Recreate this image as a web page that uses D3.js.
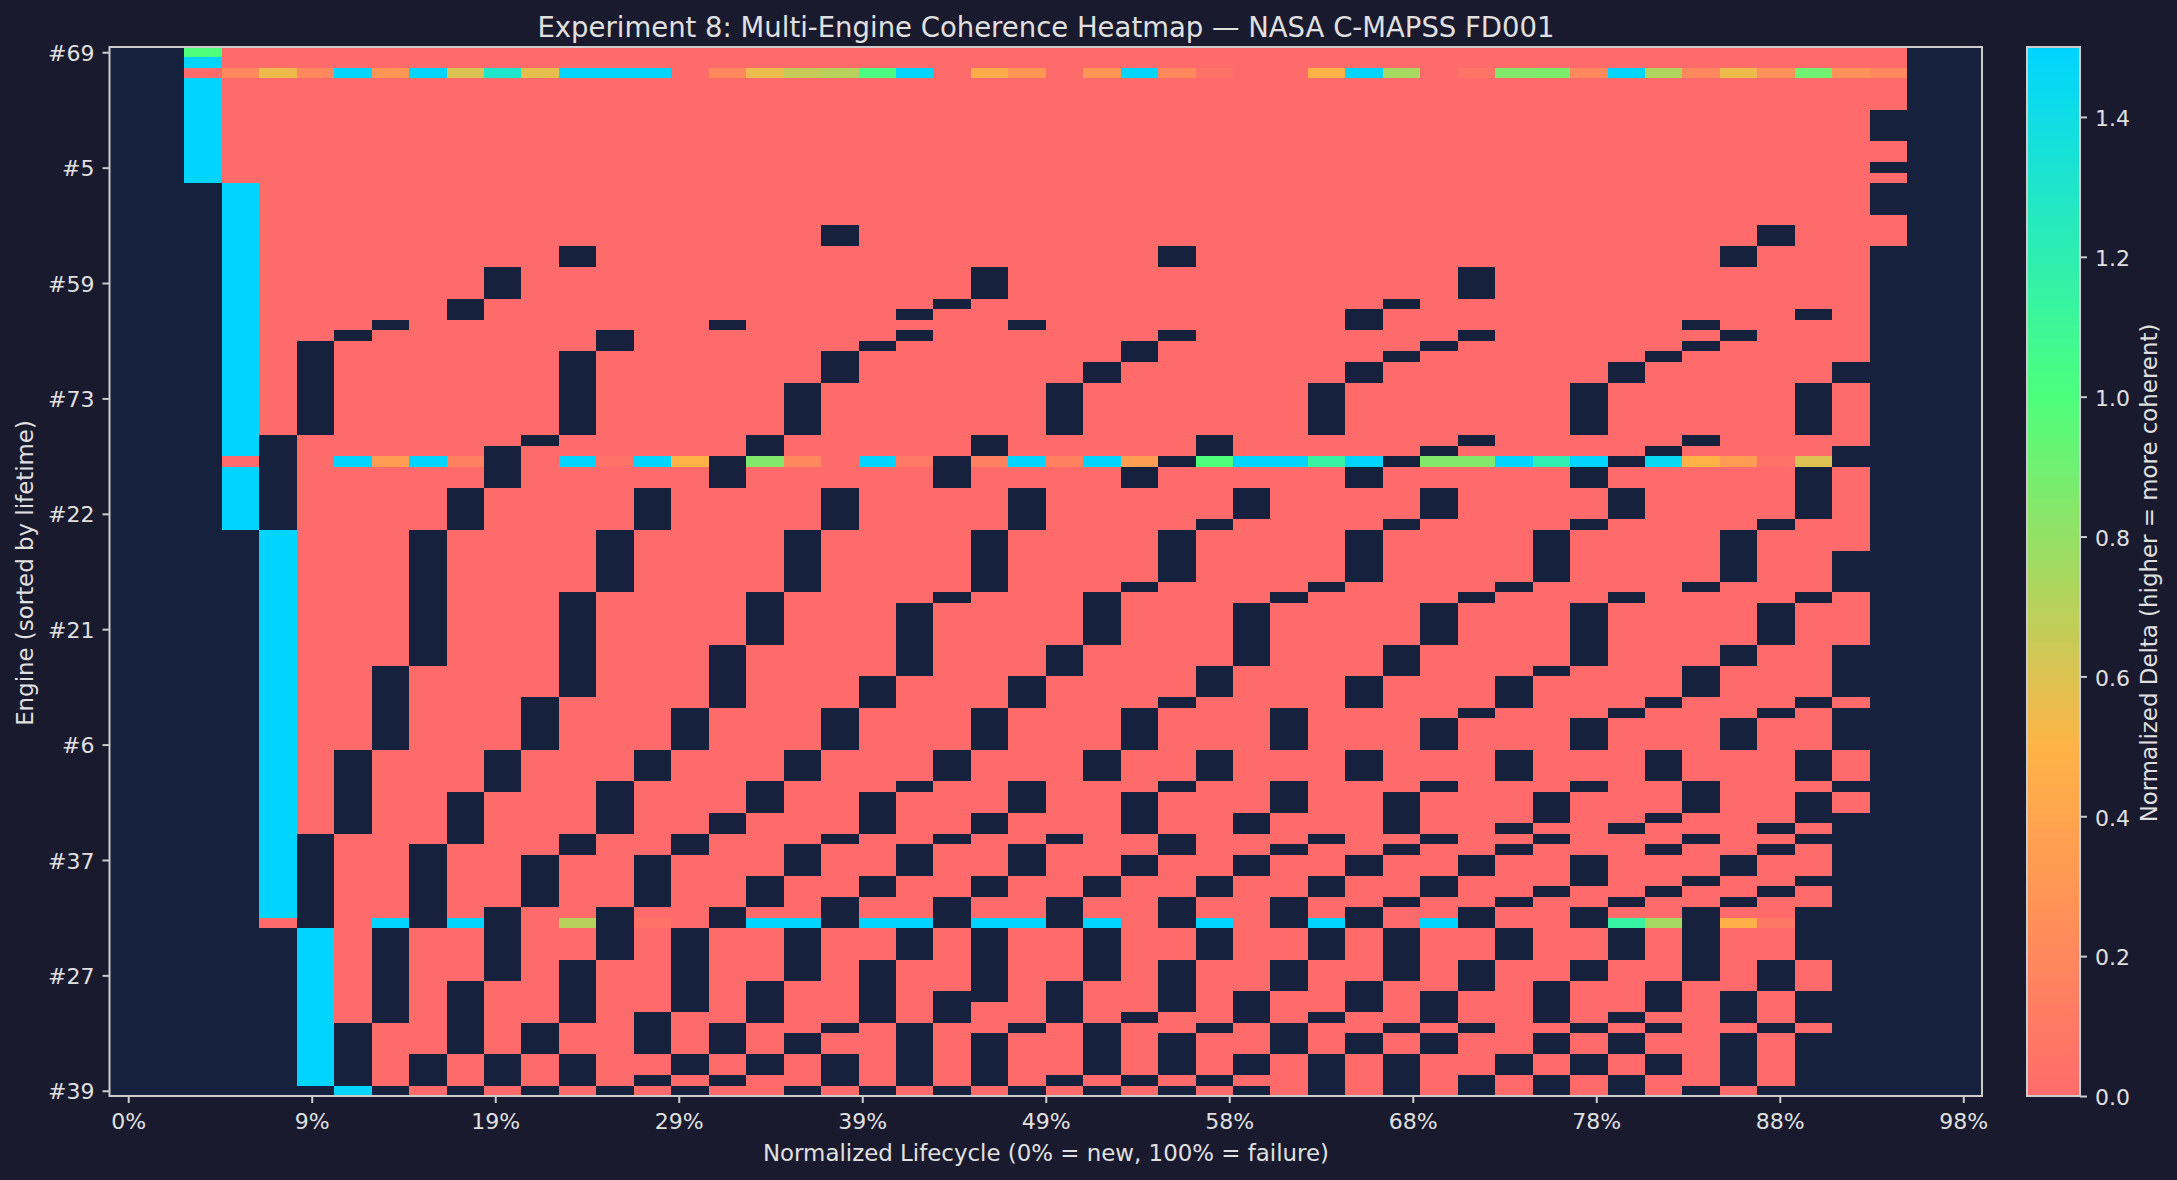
<!DOCTYPE html>
<html>
<head>
<meta charset="utf-8">
<script src="https://cdn.jsdelivr.net/npm/d3@7"></script>
<style>
    html, body { margin: 0; background: #1a1a2e; }
    svg { display: block; }
    text { font-family: "DejaVu Sans"; fill: #e0e0e0; }
</style>
</head>
<body>
<svg id="chart" width="2177" height="1180"></svg>
<script>
const ROW_COUNT = 100;
const COLUMN_COUNT = 50;

const engineTicks = ['#69', '#5', '#59', '#73', '#22', '#21', '#6', '#37', '#27', '#39'];
const engineTickStep = 11;
const lifecycleTicks = [0, 9.8, 19.6, 29.4, 39.2, 49, 58.8, 68.6, 78.4, 88.2, 98];
const deltaTicks = [0, 0.2, 0.4, 0.6, 0.8, 1.0, 1.2, 1.4];

// [row start, row end] of the empty bins, one list per lifecycle column
const emptyBins = [
    [[0, 99]],
    [[0, 99]],
    [[13, 99]],
    [[46, 99]],
    [[37, 45], [84, 99]],
    [[28, 36], [75, 83], [99, 99]],
    [[27, 27], [67, 74], [93, 98]],
    [[26, 26], [59, 66], [84, 92], [99, 99]],
    [[46, 58], [76, 83], [96, 98]],
    [[24, 25], [42, 45], [71, 75], [89, 95], [99, 99]],
    [[21, 23], [38, 41], [67, 70], [82, 88], [96, 98]],
    [[37, 37], [62, 66], [77, 81], [93, 95], [99, 99]],
    [[19, 20], [29, 36], [52, 61], [75, 76], [87, 92], [96, 98]],
    [[27, 28], [46, 51], [70, 74], [82, 86], [99, 99]],
    [[42, 45], [67, 69], [77, 81], [92, 95], [98, 98]],
    [[63, 66], [75, 76], [84, 91], [96, 97], [99, 99]],
    [[26, 26], [39, 41], [57, 62], [73, 74], [82, 83], [93, 95], [98, 98]],
    [[37, 38], [52, 56], [70, 72], [79, 81], [89, 92], [96, 97]],
    [[32, 36], [46, 51], [67, 69], [76, 78], [84, 88], [94, 95], [99, 99]],
    [[17, 18], [29, 31], [42, 45], [63, 66], [75, 75], [81, 83], [93, 93], [96, 98]],
    [[28, 28], [60, 62], [71, 74], [79, 80], [87, 92], [99, 99]],
    [[25, 25], [27, 27], [53, 59], [70, 70], [76, 78], [84, 86], [93, 98]],
    [[24, 24], [39, 41], [52, 52], [67, 69], [75, 75], [81, 83], [90, 92], [99, 99]],
    [[21, 23], [37, 38], [46, 51], [63, 66], [73, 74], [79, 80], [84, 90], [94, 98]],
    [[26, 26], [42, 45], [60, 62], [70, 72], [76, 78], [93, 93], [99, 99]],
    [[32, 36], [57, 59], [75, 75], [81, 83], [89, 92], [98, 98]],
    [[30, 31], [52, 56], [67, 69], [79, 80], [84, 88], [93, 97], [99, 99]],
    [[28, 29], [40, 41], [51, 51], [63, 66], [71, 74], [77, 78], [92, 92], [98, 98]],
    [[19, 20], [27, 27], [39, 39], [46, 50], [62, 62], [70, 70], [75, 76], [81, 83], [87, 91], [94, 97], [99, 99]],
    [[37, 38], [45, 45], [59, 61], [67, 69], [79, 80], [84, 86], [93, 93], [98, 98]],
    [[42, 44], [53, 58], [73, 74], [77, 78], [90, 92], [96, 97], [99, 99]],
    [[52, 52], [63, 66], [70, 72], [76, 76], [81, 83], [87, 89], [93, 95]],
    [[32, 36], [51, 51], [75, 75], [79, 80], [84, 86], [92, 92], [96, 99]],
    [[25, 26], [30, 31], [40, 41], [46, 50], [60, 62], [67, 69], [77, 78], [82, 83], [89, 91], [94, 95]],
    [[24, 24], [29, 29], [39, 39], [45, 45], [57, 59], [71, 74], [76, 76], [81, 81], [84, 88], [93, 93], [96, 99]],
    [[28, 28], [38, 38], [42, 44], [53, 56], [64, 66], [70, 70], [75, 75], [79, 80], [90, 92], [94, 95]],
    [[21, 23], [27, 27], [37, 37], [52, 52], [63, 63], [77, 78], [82, 83], [87, 89], [93, 93], [98, 99]],
    [[51, 51], [60, 62], [67, 69], [74, 74], [76, 76], [81, 81], [84, 86], [96, 97]],
    [[46, 50], [59, 59], [71, 73], [75, 75], [80, 80], [89, 92], [94, 95], [98, 99]],
    [[32, 36], [40, 41], [45, 45], [53, 58], [64, 66], [70, 70], [77, 79], [82, 83], [87, 88], [93, 93], [96, 97]],
    [[30, 31], [39, 39], [42, 44], [52, 52], [63, 63], [74, 74], [81, 81], [84, 86], [92, 92], [94, 95], [98, 99]],
    [[29, 29], [38, 38], [62, 62], [67, 69], [73, 73], [76, 76], [80, 80], [89, 91], [93, 93], [96, 97]],
    [[26, 26], [28, 28], [37, 37], [51, 51], [59, 61], [70, 72], [75, 75], [79, 79], [82, 88], [99, 99]],
    [[19, 20], [27, 27], [46, 50], [57, 58], [64, 66], [77, 78], [81, 81], [90, 92], [94, 98]],
    [[17, 18], [45, 45], [53, 56], [63, 63], [74, 74], [76, 76], [80, 80], [87, 89], [93, 93], [99, 99]],
    [[25, 25], [32, 36], [40, 44], [52, 52], [62, 62], [67, 69], [71, 73], [75, 75], [79, 79], [82, 86], [90, 92], [94, 99]],
    [[30, 31], [38, 39], [48, 51], [57, 61], [63, 66], [70, 70], [73, 99]],
    [[6, 8], [11, 11], [13, 15], [19, 99]],
    [[0, 99]],
    [[0, 99]]
];

// first bin of each engine saturates the colour scale: [column, row start, row end]
const firstBinRuns = [[2, 1, 1], [2, 3, 12], [3, 13, 38], [3, 40, 45], [4, 46, 82], [5, 84, 98], [6, 99, 99]];

// the few rows with a non zero delta: [column, delta]
const row0Deltas = [[2, 1.0]];
const row2Deltas = [
    [3, 0.2], [4, 0.55], [5, 0.2], [6, 1.5], [7, 0.3], [8, 1.5], [9, 0.6], [10, 1.3], [11, 0.57], [12, 1.5],
    [13, 1.5], [14, 1.5], [16, 0.2], [17, 0.56], [18, 0.66], [19, 0.7], [20, 1.02], [21, 1.5], [23, 0.45],
    [24, 0.3], [26, 0.3], [27, 1.5], [28, 0.2], [29, 0.05], [32, 0.5], [33, 1.5], [34, 0.75], [36, 0.06],
    [37, 0.85], [38, 0.87], [39, 0.2], [40, 1.5], [41, 0.72], [42, 0.2], [43, 0.55], [44, 0.27], [45, 0.9],
    [46, 0.27], [47, 0.2]
];
const row39Deltas = [
    [6, 1.5], [7, 0.35], [8, 1.5], [9, 0.15], [12, 1.5], [13, 0.05], [14, 1.5], [15, 0.5], [17, 0.85], [18, 0.2],
    [20, 1.5], [21, 0.1], [23, 0.15], [24, 1.5], [25, 0.15], [26, 1.5], [27, 0.35], [29, 1.0], [30, 1.5], [31, 1.5],
    [32, 1.15], [33, 1.5], [35, 0.85], [36, 0.85], [37, 1.5], [38, 1.2], [39, 1.5], [41, 1.45], [42, 0.5], [43, 0.33],
    [44, 0.05], [45, 0.6]
];
const row83Deltas = [
    [7, 1.5], [9, 1.5], [12, 0.7], [14, 0.05], [17, 1.5], [18, 1.5], [20, 1.5], [21, 1.5], [23, 1.5], [24, 1.5],
    [26, 1.5], [29, 1.5], [32, 1.5], [35, 1.5], [40, 1.15], [41, 0.75], [43, 0.48], [44, 0.08]
];

const colorStops = ['#ff6b6b', '#ffb347', '#4dff7c', '#00d4ff'];
const colorDomain = [0, 0.5, 1.0, 1.5];

const plot = { left: 109.5, right: 1982, top: 47, bottom: 1096 };
const bar = { left: 2027, right: 2080 };
const BORDER = '#cccccc';
const TICK_FONT = 22;

function buildCells() {
    const grid = d3.range(ROW_COUNT).map(() => new Array(COLUMN_COUNT).fill(0));
    firstBinRuns.forEach(([col, start, end]) => {
        for (let row = start; row <= end; row++) grid[row][col] = 1.5;
    });
    [[0, row0Deltas], [2, row2Deltas], [39, row39Deltas], [83, row83Deltas]].forEach(([row, deltas]) => {
        deltas.forEach(([col, value]) => { grid[row][col] = value; });
    });
    emptyBins.forEach((runs, col) => {
        runs.forEach(([start, end]) => {
            for (let row = start; row <= end; row++) grid[row][col] = null;
        });
    });
    const cells = [];
    grid.forEach((values, row) => values.forEach((value, col) => {
        if (value !== null) cells.push({ row, col, value });
    }));
    return cells;
}

const svg = d3.select('#chart');
const x = d3.scaleLinear().domain([-0.5, COLUMN_COUNT - 0.5]).range([plot.left, plot.right]);
const y = d3.scaleLinear().domain([-0.5, ROW_COUNT - 0.5]).range([plot.top, plot.bottom]);
const color = d3.scaleLinear().domain(colorDomain).range(colorStops).clamp(true);
const barScale = d3.scaleLinear().domain([0, 1.5]).range([plot.bottom, plot.top]);

svg.append('rect')
    .attr('x', plot.left).attr('y', plot.top)
    .attr('width', plot.right - plot.left).attr('height', plot.bottom - plot.top)
    .attr('fill', '#16213e');

svg.append('g')
    .attr('shape-rendering', 'crispEdges')
    .selectAll('rect')
    .data(buildCells())
    .join('rect')
    .attr('x', d => x(d.col - 0.5))
    .attr('y', d => y(d.row - 0.5))
    .attr('width', d => x(d.col + 0.5) - x(d.col - 0.5))
    .attr('height', d => y(d.row + 0.5) - y(d.row - 0.5))
    .attr('fill', d => color(d.value));

function styleAxis(g) {
    g.select('.domain').remove();
    g.selectAll('.tick line').attr('stroke', BORDER).attr('stroke-width', 2);
    g.selectAll('.tick text').attr('font-size', TICK_FONT).style('fill', '#e0e0e0').style('font-family', 'DejaVu Sans');
}

// x axis: 11 ticks over the 50 bins, labels truncated to whole percent
svg.append('g')
    .attr('transform', `translate(0,${plot.bottom})`)
    .call(d3.axisBottom(x)
        .tickValues(lifecycleTicks.map(t => t / 2))
        .tickFormat(d => `${Math.floor(d * 2 + 1e-9)}%`)
        .tickSize(7).tickPadding(10))
    .call(styleAxis);

svg.append('g')
    .attr('transform', `translate(${plot.left},0)`)
    .call(d3.axisLeft(y)
        .tickValues(engineTicks.map((_, i) => i * engineTickStep))
        .tickFormat(d => engineTicks[d / engineTickStep])
        .tickSize(7).tickPadding(8))
    .call(styleAxis)
    .call(g => g.selectAll('.tick text').attr('dy', '0.37em'));

svg.append('rect')
    .attr('x', plot.left).attr('y', plot.top)
    .attr('width', plot.right - plot.left).attr('height', plot.bottom - plot.top)
    .attr('fill', 'none').attr('stroke', BORDER).attr('stroke-width', 2);

// colorbar
svg.append('g')
    .attr('shape-rendering', 'crispEdges')
    .selectAll('rect')
    .data(d3.range(256))
    .join('rect')
    .attr('x', bar.left)
    .attr('y', d => barScale((d + 1) / 256 * 1.5))
    .attr('width', bar.right - bar.left)
    .attr('height', (plot.bottom - plot.top) / 256 + 0.5)
    .attr('fill', d => color((d + 0.5) / 256 * 1.5));

svg.append('g')
    .attr('transform', `translate(${bar.right},0)`)
    .call(d3.axisRight(barScale)
        .tickValues(deltaTicks)
        .tickFormat(d3.format('.1f'))
        .tickSize(7).tickPadding(8))
    .call(styleAxis)
    .call(g => g.selectAll('.tick text').attr('dy', '0.4em'));

svg.append('rect')
    .attr('x', bar.left).attr('y', plot.top)
    .attr('width', bar.right - bar.left).attr('height', plot.bottom - plot.top)
    .attr('fill', 'none').attr('stroke', BORDER).attr('stroke-width', 2);

svg.append('text')
    .attr('x', 1046).attr('y', 37)
    .attr('text-anchor', 'middle').attr('font-size', 27.5)
    .text('Experiment 8: Multi-Engine Coherence Heatmap — NASA C-MAPSS FD001');

svg.append('text')
    .attr('x', 1046).attr('y', 1161)
    .attr('text-anchor', 'middle').attr('font-size', 22.9)
    .text('Normalized Lifecycle (0% = new, 100% = failure)');

svg.append('text')
    .attr('transform', 'translate(33,573) rotate(-90)')
    .attr('text-anchor', 'middle').attr('font-size', 22.9)
    .text('Engine (sorted by lifetime)');

svg.append('text')
    .attr('transform', 'translate(2157,573) rotate(-90)')
    .attr('text-anchor', 'middle').attr('font-size', 22.9)
    .text('Normalized Delta (higher = more coherent)');
</script>
</body>
</html>
